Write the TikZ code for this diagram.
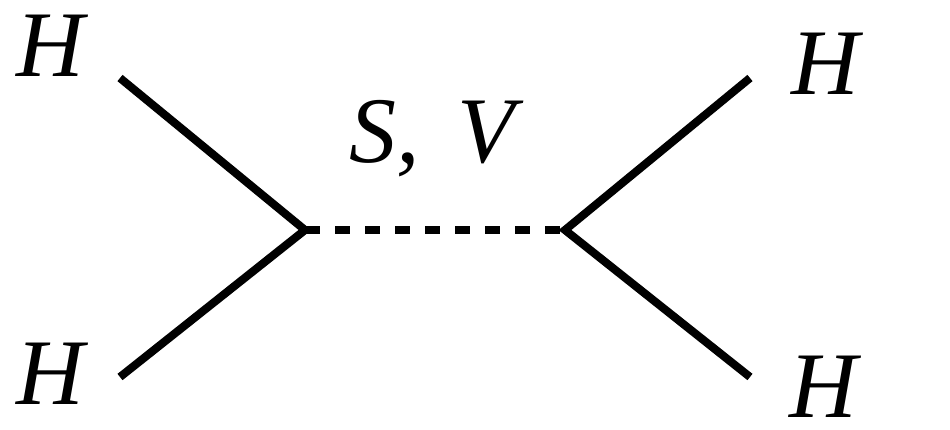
\documentclass[tikz,border=0pt]{standalone}
\usepackage{fontspec}
\setmainfont{Liberation Serif}
\usepackage{tikz}
\usetikzlibrary{positioning}
\tikzset{
  leg/.style={line width=2.3pt, draw=black},
  propagator/.style={line width=2.3pt, draw=black, dash pattern=on 0.15cm off 0.15cm},
  particle/.style={font=\fontsize{26.7}{30}\selectfont\itshape, inner sep=0pt, anchor=base},
}
\begin{document}
\begin{tikzpicture}[x=0.01cm, y=-0.01cm]
  \useasboundingbox (0,0) rectangle (950,429);
  \coordinate (vl) at (305,230);
  \coordinate (vr) at (565,230);
  \coordinate (inA) at (120,78);
  \coordinate (inB) at (120,377);
  \coordinate (outA) at (750,78);
  \coordinate (outB) at (750,377);
  \node[particle] (hA) at (50,76) {H};
  \node[particle] (hB) at (50,404) {H};
  \node[particle] (hC) at (825,94) {H};
  \node[particle] (hD) at (823,417) {H};
  \node[particle] (med) at (432,162) {S,\hspace{0.4em}V};
  \draw[leg] (inA) -- (vl) -- (inB);
  \draw[leg] (outA) -- (vr) -- (outB);
  \draw[propagator] (vl) -- (vr);
\end{tikzpicture}
\end{document}
